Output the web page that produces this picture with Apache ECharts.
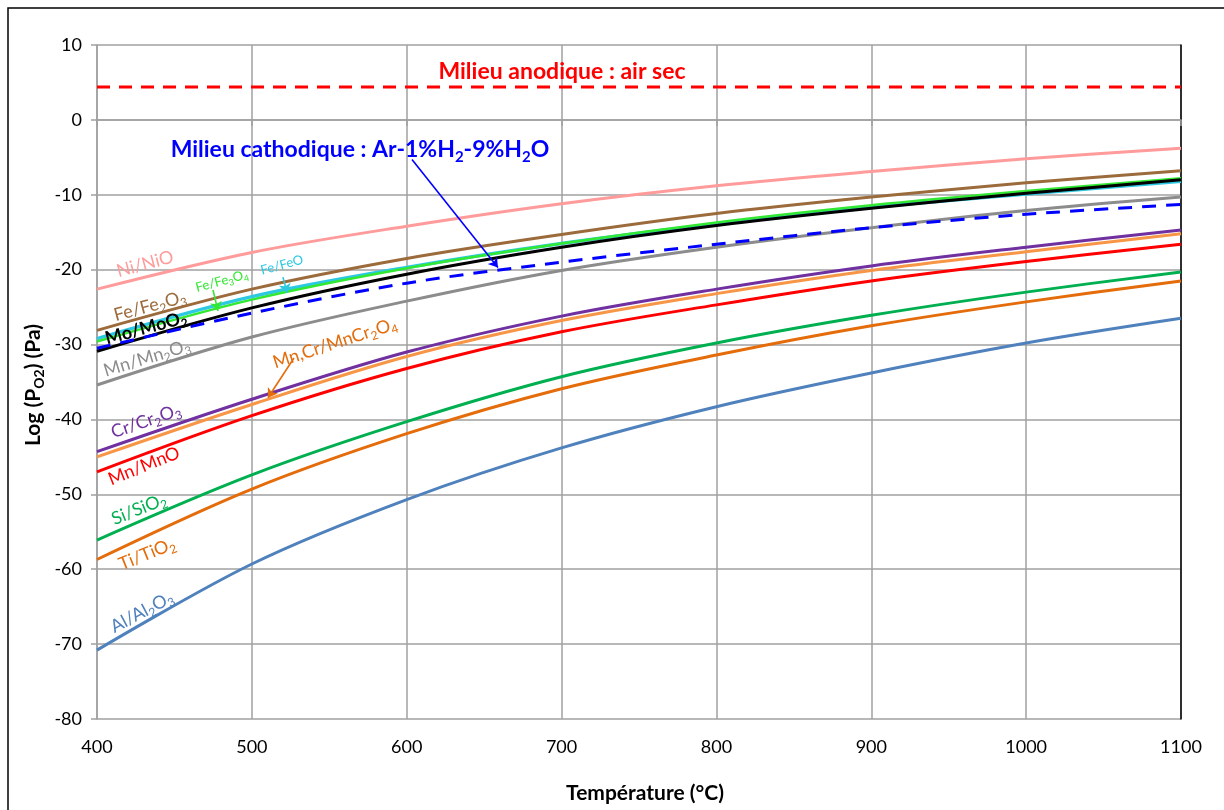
<!DOCTYPE html>
<html><head><meta charset="utf-8">
<script src="https://cdn.jsdelivr.net/npm/echarts@6/dist/echarts.min.js"></script>
<style>html,body{margin:0;padding:0;background:#fff}#c{width:1224px;height:810px}</style>
</head><body><div id="c"></div><script>
// ---- data ----
const temperatures = [400, 500, 600, 700, 800, 900, 1000, 1100];
const niNiO      = [-22.6, -17.7, -14.2, -11.2, -8.8, -6.9, -5.2, -3.8];
const feFe2O3    = [-28.1, -22.6, -18.5, -15.3, -12.5, -10.3, -8.4, -6.8];
const feFeO      = [-29.2, -23.6, -19.7, -16.5, -13.9, -11.7, -9.9, -8.2];
const feFe3O4    = [-29.6, -24.0, -19.8, -16.5, -13.7, -11.4, -9.5, -7.8];
const moMoO2     = [-30.9, -25.1, -20.6, -17.0, -14.1, -11.8, -9.8, -8.0];
const cathode    = [-30.5, -25.8, -21.8, -19.0, -16.6, -14.4, -12.6, -11.3];
const mnMn2O3    = [-35.4, -29.0, -24.2, -20.1, -17.0, -14.4, -12.1, -10.3];
const crCr2O3    = [-44.3, -37.3, -31.0, -26.2, -22.6, -19.5, -17.0, -14.7];
const mnCrMnCr2O4= [-45.0, -38.0, -31.6, -26.8, -23.2, -20.1, -17.6, -15.2];
const mnMnO      = [-47.0, -39.5, -33.2, -28.3, -24.7, -21.5, -18.9, -16.6];
const siSiO2     = [-56.1, -47.4, -40.3, -34.3, -29.8, -26.1, -23.0, -20.3];
const tiTiO2     = [-58.7, -49.3, -41.9, -35.9, -31.4, -27.5, -24.3, -21.5];
const alAl2O3    = [-70.8, -59.3, -50.7, -43.8, -38.3, -33.8, -29.8, -26.5];
const anodeRange = [400, 1100];
const anodeLevel = [4.4, 4.4];
const xTickMin = 400, xTickMax = 1100, xTickStep = 100;
const yTickMin = -80, yTickMax = 10, yTickStep = 10;

const FONT = "Lato, 'Open Sans', sans-serif";
const pairs = arr => temperatures.map((t, i) => [t, arr[i]]);

function arrow(from, to, color) {
  return {
    silent: true, symbol: ['none', 'arrow'], symbolSize: 9, label: {show: false},
    lineStyle: {color: color, width: 1.6, type: 'solid'},
    data: [[{coord: from}, {coord: to}]], animation: false
  };
}
function curve(name, arr, color, extra) {
  return Object.assign({
    name: name, type: 'line', data: pairs(arr), smooth: 0.33, showSymbol: false,
    symbol: 'none', lineStyle: {color: color, width: 3}, itemStyle: {color: color},
    z: 3, animation: false
  }, extra || {});
}

const series = [
  curve('Ni/NiO', niNiO, '#FF9B9B'),
  curve('Fe/Fe2O3', feFe2O3, '#9C6B3C'),
  curve('Fe/FeO', feFeO, '#2DC8E2', {lineStyle: {color: '#2DC8E2', width: 3.5}, markLine: arrow([520.1, -21.0], [522.7, -23.1], '#2DC8E2')}),
  curve('Fe/Fe3O4', feFe3O4, '#33E833', {lineStyle: {color: '#33E833', width: 2.5}, markLine: arrow([474.9, -22.7], [478.1, -25.5], '#33E833')}),
  curve('Mo/MoO2', moMoO2, '#000000'),
  curve('Mn/Mn2O3', mnMn2O3, '#8C8C8C'),
  curve('Ar-1%H2-9%H2O', cathode, '#0000FF', {lineStyle: {color: '#0000FF', width: 3, type: [14, 10]}, z: 4,
        markLine: arrow([603.4, -5.3], [658.9, -19.7], '#0000FF')}),
  curve('Cr/Cr2O3', crCr2O3, '#7030A0'),
  curve('Mn,Cr/MnCr2O4', mnCrMnCr2O4, '#F79646', {markLine: arrow([527.2, -31.8], [510.4, -37.1], '#E46C0A')}),
  curve('Mn/MnO', mnMnO, '#FF0000'),
  curve('Si/SiO2', siSiO2, '#00B050'),
  curve('Ti/TiO2', tiTiO2, '#E46C0A'),
  curve('Al/Al2O3', alAl2O3, '#4F81BD'),
  {name: 'air sec', type: 'line', data: anodeRange.map((t, i) => [t, anodeLevel[i]]), showSymbol: false, symbol: 'none',
   lineStyle: {color: '#FF0000', width: 3, type: [13, 9]}, z: 4, animation: false}
];

// ---- text labels with subscripts: "_x" = one subscript char, "_{..}" = subscript group ----
const mctx = document.createElement('canvas').getContext('2d');
function textWidth(t, size, weight) {
  mctx.font = weight + ' ' + size + 'px ' + FONT;
  return mctx.measureText(t).width;
}
function label(text, cx, cy, rotDeg, color, size, weight) {
  weight = weight || 'normal';
  const segs = [];
  const re = /_\{([^}]*)\}|_(.)|([^_]+)/g;
  let m;
  while ((m = re.exec(text)) !== null) {
    if (m[1] !== undefined) segs.push({t: m[1], sub: true});
    else if (m[2] !== undefined) segs.push({t: m[2], sub: true});
    else segs.push({t: m[3], sub: false});
  }
  const subSize = Math.round(size * 0.66);
  const widths = segs.map(s => textWidth(s.t, s.sub ? subSize : size, weight));
  const total = widths.reduce((a, b) => a + b, 0);
  let x = -total / 2;
  const children = segs.map((s, i) => {
    const fs = s.sub ? subSize : size;
    const el = {
      type: 'text', x: x, y: s.sub ? size * 0.3 : 0, z: 50,
      style: {text: s.t, fill: color, font: weight + ' ' + fs + 'px ' + FONT,
              textAlign: 'left', textVerticalAlign: 'middle', align: 'left', verticalAlign: 'middle'}
    };
    x += widths[i];
    return el;
  });
  return {type: 'group', x: cx, y: cy, rotation: rotDeg * Math.PI / 180, z: 50, silent: true, children: children};
}

const graphics = [
  {type: 'rect', shape: {x: 8, y: 8, width: 1260, height: 850}, style: {fill: 'none', stroke: '#000', lineWidth: 1.5}, z: 0, silent: true},
  label('Ni/NiO', 145, 264, 15, '#FF9B9B', 18),
  label('Fe/Fe_2O_3', 150, 306, 15, '#9C6B3C', 18),
  label('Fe/Fe_3O_4', 222, 281, 15, '#33E833', 13),
  label('Fe/FeO', 282, 265, 15, '#2DC8E2', 13),
  label('Mo/MoO_2', 146, 328, 15, '#000000', 18, 'bold'),
  label('Mn/Mn_2O_3', 147, 358, 17, '#8C8C8C', 18),
  label('Mn,Cr/MnCr_2O_4', 335, 343, 18, '#E46C0A', 18),
  label('Cr/Cr_2O_3', 146, 421, 19, '#7030A0', 18),
  label('Mn/MnO', 144, 466, 22, '#FF0000', 18),
  label('Si/SiO_2', 139, 509, 22, '#00B050', 18),
  label('Ti/TiO_2', 147, 554, 22, '#E46C0A', 18),
  label('Al/Al_2O_3', 142, 612, 28, '#4F81BD', 18),
  label('Milieu anodique : air sec', 562, 72, 0, '#FF0000', 23, 'bold'),
  label('Milieu cathodique : Ar-1%H_2-9%H_2O', 360, 150, 0, '#0000FF', 23, 'bold'),
  label('Log (P_{O2}) (Pa)', 33, 385, 90, '#000000', 21, 'bold'),
  label('Température (°C)', 645, 793, 0, '#000000', 21, 'bold')
];

const chart = echarts.init(document.getElementById('c'), null, {renderer: 'canvas'});
chart.setOption({
  animation: false,
  backgroundColor: '#ffffff',
  grid: {left: 97, right: 43, top: 45, bottom: 91, containLabel: false},
  xAxis: {
    type: 'value', min: xTickMin, max: xTickMax, interval: xTickStep,
    axisLine: {show: true, lineStyle: {color: '#A0A0A0', width: 1.5}},
    axisTick: {show: true, inside: false, length: 6, lineStyle: {color: '#A0A0A0', width: 1.5}},
    axisLabel: {color: '#000', fontSize: 18, fontFamily: FONT, margin: 19, formatter: v => String(v)},
    splitLine: {show: true, lineStyle: {color: '#A0A0A0', width: 1.5}}
  },
  yAxis: [{
    type: 'value', min: yTickMin, max: yTickMax, interval: yTickStep,
    axisLine: {show: true, lineStyle: {color: '#A0A0A0', width: 1.5}},
    axisTick: {show: true, inside: false, length: 6, lineStyle: {color: '#A0A0A0', width: 1.5}},
    axisLabel: {color: '#000', fontSize: 18, fontFamily: FONT, margin: 15, formatter: v => String(v)},
    splitLine: {show: true, lineStyle: {color: '#A0A0A0', width: 1.5}}
  }, {
    type: 'value', position: 'right', min: yTickMin, max: yTickMax, interval: yTickStep,
    axisLine: {show: true, lineStyle: {color: '#000', width: 1.5}},
    axisTick: {show: false}, axisLabel: {show: false}, splitLine: {show: false}
  }],
  series: series,
  graphic: graphics
});
</script></body></html>
